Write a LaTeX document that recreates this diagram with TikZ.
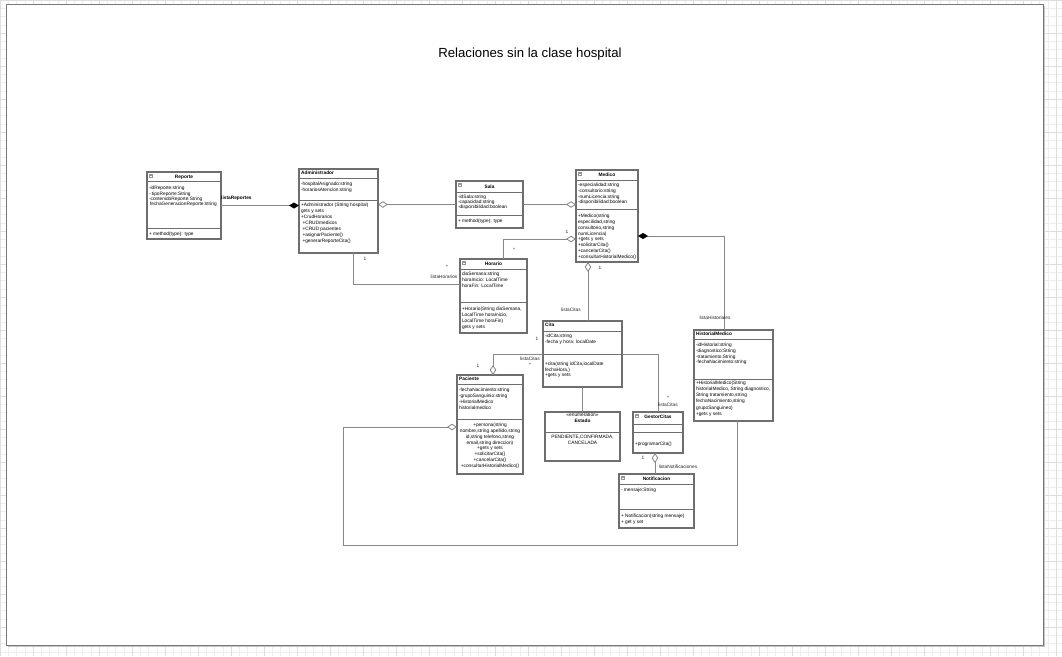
\documentclass[tikz,border=0pt]{standalone}
\usepackage{fontspec}
\setmainfont{Liberation Sans}
\usetikzlibrary{arrows.meta,calc}
\definecolor{boxc}{RGB}{110,110,110}
\definecolor{linec}{RGB}{135,135,135}
\definecolor{gminor}{RGB}{238,238,238}
\definecolor{gmajor}{RGB}{222,222,222}
\definecolor{framec}{RGB}{120,120,120}
\definecolor{iconc}{RGB}{150,150,150}
\newcommand\umlbox[5]{\node[cls, minimum width={#4-#2}, minimum height={#5-#3}, anchor=north west] (#1) at (#2,#3) {};}
\newcommand\clsep[2]{\draw[sepl] (#1.west |- 0,#2) -- (#1.east |- 0,#2);}
\newcommand\clsicon[2]{\fill[iconc] (#1,#2) rectangle ++(4,4); \draw[white,line width=0.4pt] ({#1+1},{#2+2}) -- ++(2,0);}
\begin{document}
\begin{tikzpicture}[x=1pt, y=-1pt,
  cls/.style={draw=boxc, line width=1.3pt, fill=white, inner sep=0pt, outer sep=0pt},
  sepl/.style={draw=boxc, line width=1pt},
  conn/.style={draw=linec, line width=0.9pt},
  t/.style={font=\fontsize{4.8}{#1}\selectfont, inner sep=0pt, outer sep=0pt, align=left, anchor=north west},
  t/.default=5.8,
  tc/.style={t=#1, align=center, anchor=north},
  tc/.default=5.8,
  hd/.style={font=\fontsize{4.8}{5.8}\selectfont\bfseries, inner sep=0pt, anchor=base},
  hdl/.style={hd, anchor=base west},
  lb/.style={font=\fontsize{4.8}{5.8}\selectfont, inner sep=0pt, text=black!85},
  odia/.tip={Diamond[open, fill=white, length=10pt, width=6.5pt, line width=0.8pt]},
  fdia/.tip={Diamond[fill=black, color=black, length=10pt, width=6pt]},
]
\useasboundingbox (0,0) rectangle (1062,656);
% page background with grid
\fill[white] (0,0) rectangle (1062,656);
\foreach \i in {0,...,129} { \draw[gminor, line width=0.4pt] ({\i*8.25},0) -- ({\i*8.25},656); }
\foreach \j in {0,...,80} { \draw[gminor, line width=0.4pt] (0,{\j*8.25}) -- (1062,{\j*8.25}); }
\foreach \i in {0,...,32} { \draw[gmajor, line width=0.5pt] ({\i*33},0) -- ({\i*33},656); }
\foreach \j in {0,...,20} { \draw[gmajor, line width=0.5pt] (0,{\j*33}) -- (1062,{\j*33}); }
\fill[gray!45] (8,6) rectangle (1045,647);
\draw[draw=framec, fill=white, line width=0.7pt] (6,4) rectangle (1043,645);

\node[font=\fontsize{13.2}{16}\selectfont, inner sep=0pt] (title) at (530,54) {Relaciones sin la clase hospital};

% ---------- Reporte
\umlbox{rep}{147}{172}{221}{239}
\clsicon{149}{174}
\node[hd] (repH) at (184,178.7) {Reporte};
\clsep{rep}{181}
\node[t=5.2] (repA) at (149,186.5) {-idReporte:string\\- tipoReporte:String\\-contenidoReporte:String\\\hspace{1pt}fechaGeneracionReporte:string};
\clsep{rep}{228}
\node[t] (repM) at (149,232.2) {+ method(type): type};

% ---------- Administrador
\umlbox{adm}{299}{169}{378}{253}
\node[hdl] (admH) at (301,174.7) {Administrador};
\clsep{adm}{178}
\node[t] (admA) at (301,182.5) {-hospitalAsignado:string\\-horariosAtencion:string};
\clsep{adm}{200}
\node[t=6] (admM) at (301,203) {+Administrador (String hospital)\\gets y sets\\+CrudHorarios\\\hspace{1.5pt}+CRUDmedicos\\\hspace{1.5pt}+CRUD pacientes\\\hspace{1.5pt}+asignarPaciente()\\\hspace{1.5pt}+generarReporteCita()};

% ---------- Sala
\umlbox{sala}{456}{181}{523}{228}
\clsicon{458}{183}
\node[hd] (salaH) at (489.5,188.2) {Sala};
\clsep{sala}{192}
\node[t=5] (salaA) at (458,195.5) {-idSala:string\\-capacidad:string\\-disponibilidad:boolean};
\clsep{sala}{215}
\node[t] (salaM) at (458,219.2) {+ method(type): type};

% ---------- Medico
\umlbox{med}{576}{170}{638}{262}
\clsicon{578}{172}
\node[hd] (medH) at (607,176.7) {Medico};
\clsep{med}{180}
\node[t=5.7] (medA) at (578,183.2) {-especialidad:string\\-consultorio:string\\-numLicencia:string\\-disponibilidad:boolean};
\clsep{med}{209}
\node[t=5.85] (medM) at (578,214) {+Medico(string\\especilidad,string\\consultorio,string\\numLicencia)\\+gets y sets\\+solicitarCita()\\+cancelarCita()\\+consultarHistorialMedico()};

% ---------- Horario
\umlbox{hor}{460}{259}{527}{333}
\clsicon{462}{261}
\node[hd] (horH) at (493.5,265.7) {Horario};
\clsep{hor}{269}
\node[t=5.7] (horA) at (462,272.5) {diaSemana:string\\horaInicio: LocalTime\\horaFin: LocalTime};
\clsep{hor}{302}
\node[t=5.8] (horM) at (462,307.5) {+Horario(String diaSemana,\\LocalTime horaInicio,\\LocalTime horaFin)\\gets y sets};

% ---------- Cita
\umlbox{cita}{543}{321}{622}{387}
\node[hdl] (citaH) at (545,326.7) {Cita};
\clsep{cita}{331}
\node[t=5.7] (citaA) at (545,334.2) {-idCita:string\\-fecha y hora: localDate};
\clsep{cita}{354}
\node[t=5.5] (citaM) at (545,362.2) {+cita(string idCita,localDate\\fechaHora,)\\+gets y sets};

% ---------- Paciente
\umlbox{pac}{457}{375}{523}{474}
\node[hdl] (pacH) at (459,380.7) {Paciente};
\clsep{pac}{384}
\node[t=5.9] (pacA) at (459,388.2) {-fechaNacimiento:string\\-grupoSanguinio:string\\-HistorialMedico\\historialmedico};
\clsep{pac}{419}
\node[tc] (pacM) at (490,423.2) {+persona(string\\nombre,string apellido,string\\id,string telefono,string\\email,string direccion)\\+gets y sets\\+solicitarCita()\\+cancelarCita()\\+consultarHistorialMedico()};

% ---------- Estado
\umlbox{est}{545}{412}{620}{461}
\node[font=\fontsize{4.8}{5.8}\selectfont, inner sep=0pt] (estS) at (582.5,414.3) {«enumeration»};
\draw[sepl, line width=1.3pt] (est.north west) -- (est.north east);
\node[hd] (estH) at (582.5,422.7) {Estado};
\clsep{est}{432}
\node[tc=6] (estV) at (582.5,435) {PENDIENTE,CONFIRMADA,\\CANCELADA};

% ---------- GestorCitas
\umlbox{gest}{633}{412}{683}{453}
\clsicon{635}{414}
\node[hd] (gestH) at (658,418.7) {GestorCitas};
\clsep{gest}{424}
\clsep{gest}{432}
\node[t] (gestM) at (635,442.2) {+programarCita()};

% ---------- Notificacion
\umlbox{notif}{619}{474}{694}{528}
\clsicon{621}{476}
\node[hd] (notifH) at (656.5,480.7) {Notificacion};
\clsep{notif}{484}
\node[t] (notifA) at (621,488.2) {- mensaje:String};
\clsep{notif}{509}
\node[t] (notifM) at (621,514.2) {+ Notificacion(string mensaje)\\+ get y set};

% ---------- HistorialMedico
\umlbox{hist}{694}{330}{773}{421}
\node[hdl] (histH) at (696,335.7) {HistorialMedico};
\clsep{hist}{339}
\node[t=5.7] (histA) at (696,343.2) {-idHistorial:string\\-diagnostico:String\\-tratamiento:String\\-fechaNacimiento:string};
\clsep{hist}{379}
\node[t=6.1] (histM) at (696,381.2) {+HistorialMedico(String\\historialMedico, String diagnostico,\\String tratamiento,string\\fechaNacimiento,string\\grupoSanguineo)\\+gets y sets};

% ---------- connectors
\draw[conn, fdia-] (adm.west |- rep.east) -- (rep.east);
\draw[conn, odia-] (adm.east |- sala.west) -- (sala.west);
\draw[conn, odia-] (med.west |- sala.east) -- (sala.east);
\draw[conn, odia-] ($(med.north west)+(0,69)$) -| ($(hor.north west)+(43,0)$);
\draw[conn, fdia-] ($(med.north east)+(0,66)$) -| ($(hist.north west)+(30,0)$);
\draw[conn, odia-] ($(med.south west)+(12,0)$) -- ($(cita.north west)+(45,0)$);
\draw[conn] ($(adm.south west)+(54,0)$) |- ($(hor.north west)+(0,25)$);
\draw[conn, odia-] ($(pac.north west)+(36,0)$) |- ($(cita.north west)+(0,33)$);
\draw[conn] ($(cita.north east)+(0,33)$) -| (gest.north);
\draw[conn] (cita.south) -- (est.north);
\draw[conn, odia-] ($(gest.south)+(-3,0)$) -- ($(notif.north west)+(36,0)$);
\coordinate (lpBL) at (343,545);
\coordinate (lpBR) at (737,545);
\draw[conn, odia-] ($(pac.north west)+(0,52)$) -| (lpBL) -- (lpBR) -- ($(hist.south west)+(43,0)$);

% ---------- connector labels
\node[lb, anchor=west, text=black, font=\fontsize{4.8}{5.8}\selectfont\bfseries] (l1) at (221,198) {listaReportes};
\node[lb] (l2) at (365,259) {1};
\node[lb] (l3) at (447,267) {*};
\node[lb] (l4) at (444,277) {listaHorarios};
\node[lb] (l5) at (567,232) {1};
\node[lb] (l6) at (514,250) {*};
\node[lb] (l7) at (600,268) {1};
\node[lb] (l8) at (571,310) {listaCitas};
\node[lb] (l9) at (715,318) {listaHistoriales};
\node[lb] (l10) at (537,339) {1};
\node[lb] (l11) at (478,366) {1};
\node[lb] (l12) at (530,359) {listaCitas};
\node[lb] (l13) at (530,364.5) {*};
\node[lb] (l14) at (668,397.5) {*};
\node[lb] (l15) at (668,405) {listaCitas};
\node[lb] (l16) at (643,458) {1};
\node[lb] (l17) at (678,467) {listaNotificaciones};
\end{tikzpicture}
\end{document}
